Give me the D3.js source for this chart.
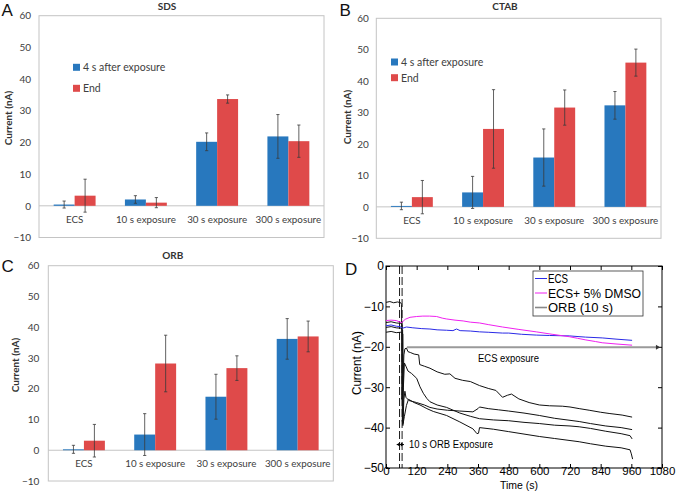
<!DOCTYPE html>
<html><head><meta charset="utf-8">
<script src="https://cdn.jsdelivr.net/npm/d3@7/dist/d3.min.js"></script>
<style>body{margin:0;background:#fff}svg{display:block}</style>
</head><body><svg id="c" width="677" height="492"></svg>
<script>
// ---------- data ----------
const categories = ["ECS", "10 s exposure", "30 s exposure", "300 s exposure"];
const seriesNames = ["4 s after exposure", "End"];
const barTicks = [-10, 0, 10, 20, 30, 40, 50, 60];

const sdsAfter = [0.4, 2.0, 20.2, 21.9];
const sdsAfterErr = [1.1, 1.2, 2.8, 6.9];
const sdsEnd = [3.2, 1.0, 33.7, 20.4];
const sdsEndErr = [5.2, 1.6, 1.3, 5.1];

const ctabAfter = [0.3, 4.6, 15.7, 32.3];
const ctabAfterErr = [1.2, 5.1, 9.1, 4.4];
const ctabEnd = [3.1, 24.8, 31.6, 45.9];
const ctabEndErr = [5.3, 12.5, 5.6, 4.3];

const orbAfter = [0.3, 5.1, 17.4, 36.2];
const orbAfterErr = [1.3, 6.8, 7.3, 6.6];
const orbEnd = [3.1, 28.2, 26.7, 37.0];
const orbEndErr = [5.3, 9.2, 4.0, 5.0];

const timeTicks = [0, 120, 240, 360, 480, 600, 720, 840, 960, 1080];
const currentTicks = [-50, -40, -30, -20, -10, 0];
const traceNames = ["ECS", "ECS+ 5% DMSO", "ORB (10 s)"];

const ecsTrace = [[0,-14.8],[20,-14.6],[40,-14.9],[55,-15.0],[65,-15.4],[80,-15.1],[105,-15.3],[140,-15.5],[172,-15.6],[200,-15.8],[237,-15.9],[262,-16.0],[276,-15.6],[290,-16.0],[330,-16.1],[366,-16.3],[400,-16.4],[456,-16.6],[480,-16.6],[530,-16.9],[588,-17.1],[640,-17.2],[717,-17.3],[780,-17.6],[846,-17.8],[900,-18.1],[963,-18.4]];
const dmsoTrace = [[0,-13.5],[20,-13.4],[40,-13.5],[55,-13.9],[62,-14.0],[75,-13.2],[94,-12.7],[120,-12.5],[144,-12.4],[170,-12.4],[198,-12.5],[220,-12.9],[236,-13.1],[270,-13.4],[302,-13.6],[330,-13.9],[366,-14.1],[400,-14.5],[456,-15.1],[520,-15.7],[588,-16.3],[650,-16.9],[717,-17.5],[750,-17.9],[782,-18.3],[820,-18.7],[846,-19.0],[900,-19.3],[963,-19.6]];
const orbTrace1 = [[0,-9.0],[15,-8.8],[30,-9.1],[45,-8.9],[58,-9.1],[61,-9.5],[62,-33],[66,-30],[70,-22],[74,-20.5],[80,-20.3],[86,-21.2],[95,-21.4],[110,-21.8],[128,-22.0],[132,-24.4],[150,-24.8],[172,-25.3],[200,-26.2],[230,-26.8],[250,-26.7],[270,-27.8],[300,-28.3],[330,-28.6],[366,-29.6],[400,-30.3],[430,-30.8],[456,-32.5],[475,-32.0],[491,-31.7],[520,-32.9],[560,-33.8],[600,-34.4],[640,-34.6],[690,-34.7],[720,-34.9],[756,-35.3],[795,-35.7],[840,-36.2],[873,-36.5],[924,-36.9],[963,-37.4]];
const orbTrace2 = [[0,-14.0],[20,-13.8],[40,-14.1],[58,-14.2],[63,-14.5],[64,-38.5],[68,-30],[72,-24.0],[78,-24.8],[86,-26.0],[100,-26.6],[120,-27.8],[133,-29.9],[146,-31.5],[160,-32.8],[172,-33.6],[200,-34.4],[237,-35.0],[289,-36.4],[330,-37.2],[366,-37.8],[420,-38.1],[480,-38.3],[540,-38.7],[600,-39.0],[660,-39.4],[720,-39.6],[756,-39.8],[800,-40.2],[860,-40.9],[920,-41.5],[955,-42.0],[963,-42.8]];
const orbTrace3 = [[0,-15.2],[20,-15.0],[40,-15.3],[58,-15.4],[65,-15.8],[66,-39.5],[70,-33],[74,-31.0],[78,-32.5],[90,-33.3],[120,-33.8],[150,-34.4],[172,-35.0],[200,-35.4],[240,-35.7],[289,-35.9],[340,-36.1],[360,-35.3],[366,-34.9],[400,-35.3],[440,-35.6],[480,-35.9],[540,-36.4],[600,-37.0],[660,-37.7],[720,-38.2],[756,-38.5],[800,-39.0],[860,-39.6],[920,-40.0],[963,-40.5]];
const orbTrace4 = [[0,-16.4],[20,-16.2],[40,-16.5],[58,-16.4],[66,-16.8],[67,-39.0],[72,-37.2],[80,-34.5],[88,-33.0],[94,-33.2],[110,-33.8],[133,-34.4],[160,-35.3],[185,-36.0],[237,-37.0],[289,-38.6],[340,-40.3],[356,-41.5],[362,-41.4],[366,-40.0],[420,-40.4],[480,-41.0],[540,-41.6],[600,-42.2],[660,-42.7],[720,-43.2],[756,-43.5],[800,-44.0],[860,-44.6],[920,-45.0],[955,-45.5],[960,-46.5],[965,-47.8]];
const exposureMarks = [53, 63];
const ecsExposureLevel = -20.1;
const ecsExposureSpan = [82, 1068];
const orbArrowLevel = -44.2;
const orbArrowSpan = [42, 70];

// ---------- drawing ----------
const svg = d3.select("#c");
svg.append("rect").attr("width", 677).attr("height", 492).attr("fill", "#fff");

const BLUE = "#2878be", RED = "#df4a4a", FRAME = "#c4c4c4";
const BARFONT = "Lato, 'Open Sans', sans-serif";
const MFONT = "'Liberation Sans', Arial, sans-serif";

function barPanel(o) {
  const g = svg.append("g");
  const x = d3.scaleBand().domain(categories).range([o.x0, o.x1]);
  const xs = d3.scaleBand().domain(seriesNames).range([0, x.bandwidth()]).paddingInner(0).paddingOuter(0.7);
  const y = d3.scaleLinear().domain([barTicks[0], barTicks[barTicks.length - 1]]).range([o.yb, o.yt]);

  g.append("rect").attr("x", o.x0).attr("y", o.yt).attr("width", o.x1 - o.x0).attr("height", o.yb - o.yt)
    .attr("fill", "none").attr("stroke", FRAME).attr("stroke-width", 1);

  const ya = g.append("g").attr("transform", `translate(${o.x0},0)`)
    .call(d3.axisLeft(y).tickValues(barTicks).tickSize(0).tickPadding(o.tp));
  ya.select(".domain").remove();
  ya.selectAll("text").attr("font-family", BARFONT).attr("font-size", 10).attr("fill", "#404040");

  g.append("line").attr("x1", o.x0).attr("x2", o.x1).attr("y1", y(0)).attr("y2", y(0))
    .attr("stroke", FRAME).attr("stroke-width", 1);

  const sets = [[o.after, o.afterErr, BLUE], [o.end, o.endErr, RED]];
  sets.forEach(([vals, errs, col], si) => {
    const name = seriesNames[si];
    g.append("g").selectAll("rect").data(categories).join("rect")
      .attr("x", c => x(c) + xs(name)).attr("width", xs.bandwidth())
      .attr("y", (c, i) => y(Math.max(0, vals[i])))
      .attr("height", (c, i) => Math.abs(y(vals[i]) - y(0)))
      .attr("fill", col);
  });
  sets.forEach(([vals, errs, col], si) => {
    const name = seriesNames[si];
    const eg = g.append("g").attr("stroke", "#3a3a3a").attr("stroke-width", 0.8);
    categories.forEach((c, i) => {
      const cx = x(c) + xs(name) + xs.bandwidth() / 2;
      const hi = y(vals[i] + errs[i]), lo = y(vals[i] - errs[i]);
      eg.append("line").attr("x1", cx).attr("x2", cx).attr("y1", hi).attr("y2", lo);
      eg.append("line").attr("x1", cx - 1.6).attr("x2", cx + 1.6).attr("y1", hi).attr("y2", hi);
      eg.append("line").attr("x1", cx - 1.6).attr("x2", cx + 1.6).attr("y1", lo).attr("y2", lo);
    });
  });

  const xa = g.append("g").attr("transform", `translate(0,${y(0)})`)
    .call(d3.axisBottom(x).tickSize(0).tickPadding(10));
  xa.select(".domain").remove();
  xa.selectAll("text").attr("font-family", BARFONT).attr("font-size", 9.8).attr("fill", "#404040");

  g.append("text").attr("x", o.titleX).attr("y", o.titleY).attr("text-anchor", "middle")
    .attr("font-family", BARFONT).attr("font-weight", "bold").attr("font-size", 10).attr("fill", "#333")
    .text(o.title);

  g.append("text").attr("transform", `translate(${o.ylx},${o.yly}) rotate(-90)`)
    .attr("text-anchor", "middle").attr("dominant-baseline", "central")
    .attr("font-family", BARFONT).attr("font-weight", "bold").attr("font-size", 10).attr("fill", "#333")
    .text("Current (nA)");

  if (o.legend) {
    seriesNames.forEach((n, i) => {
      const ly = o.legend.ys[i];
      g.append("rect").attr("x", o.legend.x).attr("y", ly - 3.5).attr("width", 7).attr("height", 7)
        .attr("fill", i === 0 ? BLUE : RED);
      g.append("text").attr("x", o.legend.x + 10).attr("y", ly).attr("dominant-baseline", "central")
        .attr("font-family", BARFONT).attr("font-size", 10.5).attr("fill", "#404040").text(n);
    });
  }

  svg.append("text").attr("x", o.letterX).attr("y", o.letterY)
    .attr("font-family", MFONT).attr("font-size", 17).attr("fill", "#111").text(o.letter);
}

barPanel({x0: 39, x1: 324, yb: 237.5, yt: 15.7, tp: 8, title: "SDS", titleX: 167, titleY: 9.8,
  ylx: 7.5, yly: 118, after: sdsAfter, afterErr: sdsAfterErr, end: sdsEnd, endErr: sdsEndErr,
  legend: {x: 73, ys: [67.3, 88.3]}, letter: "A", letterX: 1.5, letterY: 15.5});
barPanel({x0: 376.3, x1: 661, yb: 238.3, yt: 18.3, tp: 7.5, title: "CTAB", titleX: 505, titleY: 10,
  ylx: 347, yly: 117, after: ctabAfter, afterErr: ctabAfterErr, end: ctabEnd, endErr: ctabEndErr,
  legend: {x: 391, ys: [62, 77.7]}, letter: "B", letterX: 339.5, letterY: 15.5});
barPanel({x0: 48.3, x1: 333.3, yb: 481, yt: 265.7, tp: 9, title: "ORB", titleX: 172.7, titleY: 258.5,
  ylx: 15, yly: 365, after: orbAfter, afterErr: orbAfterErr, end: orbEnd, endErr: orbEndErr,
  legend: null, letter: "C", letterX: 1.5, letterY: 272});

// ---------- panel D ----------
const xD = d3.scaleLinear().domain([timeTicks[0], timeTicks[timeTicks.length - 1]]).range([386, 662]);
const yD = d3.scaleLinear().domain([currentTicks[0], currentTicks[currentTicks.length - 1]]).range([468, 266]);
const gD = svg.append("g");
const fmt = d3.format("d");

function styleTicks(sel, fs) {
  sel.select(".domain").remove();
  sel.selectAll("line").attr("stroke", "#000");
  sel.selectAll("text").attr("font-family", MFONT).attr("font-size", fs).attr("fill", "#000");
}
const axB = gD.append("g").attr("transform", `translate(0,${yD.range()[0]})`)
  .call(d3.axisBottom(xD).tickValues(timeTicks).tickFormat(fmt).tickSizeInner(-4).tickSizeOuter(0).tickPadding(-1));
styleTicks(axB, 11.5);
const axT = gD.append("g").attr("transform", `translate(0,${yD.range()[1]})`)
  .call(d3.axisTop(xD).tickValues(timeTicks).tickSizeInner(-4).tickSizeOuter(0).tickFormat(""));
styleTicks(axT, 11.5);
const axL = gD.append("g").attr("transform", `translate(${xD.range()[0]},0)`)
  .call(d3.axisLeft(yD).tickValues(currentTicks).tickFormat(fmt).tickSizeInner(-4).tickSizeOuter(0).tickPadding(2));
styleTicks(axL, 12);
const axR = gD.append("g").attr("transform", `translate(${xD.range()[1]},0)`)
  .call(d3.axisRight(yD).tickValues(currentTicks).tickSizeInner(-4).tickSizeOuter(0).tickFormat(""));
styleTicks(axR, 12);

gD.append("rect").attr("x", xD.range()[0]).attr("y", yD.range()[1])
  .attr("width", xD.range()[1] - xD.range()[0]).attr("height", yD.range()[0] - yD.range()[1])
  .attr("fill", "none").attr("stroke", "#000").attr("stroke-width", 1);

// exposure dashed markers
exposureMarks.forEach(t => {
  gD.append("line").attr("x1", xD(t)).attr("x2", xD(t)).attr("y1", yD.range()[1]).attr("y2", yD.range()[0])
    .attr("stroke", "#000").attr("stroke-width", 0.9).attr("stroke-dasharray", "8,3");
});

const lineD = d3.line().x(d => xD(d[0])).y(d => yD(d[1]));
[orbTrace1, orbTrace2, orbTrace3, orbTrace4].forEach(tr => {
  gD.append("path").attr("d", lineD(tr)).attr("fill", "none").attr("stroke", "#111").attr("stroke-width", 1);
});
gD.append("path").attr("d", lineD(ecsTrace)).attr("fill", "none").attr("stroke", "#2a2ae6").attr("stroke-width", 1);
gD.append("path").attr("d", lineD(dmsoTrace)).attr("fill", "none").attr("stroke", "#f020f0").attr("stroke-width", 1);

// ECS exposure annotation
gD.append("line").attr("x1", xD(ecsExposureSpan[0])).attr("x2", xD(ecsExposureSpan[1]))
  .attr("y1", yD(ecsExposureLevel)).attr("y2", yD(ecsExposureLevel))
  .attr("stroke", "#9a9a9a").attr("stroke-width", 2);
gD.append("path").attr("d", `M${xD(ecsExposureSpan[1]) - 3},${yD(ecsExposureLevel) - 2.5} L${xD(ecsExposureSpan[1]) + 1},${yD(ecsExposureLevel)} L${xD(ecsExposureSpan[1]) - 3},${yD(ecsExposureLevel) + 2.5}Z`)
  .attr("fill", "#333");
gD.append("text").attr("x", 478).attr("y", yD(ecsExposureLevel) + 11).attr("dominant-baseline", "central")
  .attr("font-family", MFONT).attr("font-size", 10).attr("textLength", 61).attr("lengthAdjust", "spacingAndGlyphs")
  .text("ECS exposure");

// ORB exposure arrow
const ay = yD(orbArrowLevel), ax0 = xD(orbArrowSpan[0]), ax1 = xD(orbArrowSpan[1]);
gD.append("line").attr("x1", ax0).attr("x2", ax1).attr("y1", ay).attr("y2", ay).attr("stroke", "#000").attr("stroke-width", 1);
gD.append("path").attr("d", `M${ax0},${ay} l3,-2 v4Z M${ax1},${ay} l-3,-2 v4Z`).attr("fill", "#000");
gD.append("text").attr("x", 409).attr("y", ay).attr("dominant-baseline", "central")
  .attr("font-family", MFONT).attr("font-size", 10).attr("textLength", 84).attr("lengthAdjust", "spacingAndGlyphs")
  .text("10 s ORB Exposure");

// legend
const lg = gD.append("g");
lg.append("rect").attr("x", 533).attr("y", 271).attr("width", 110).attr("height", 45)
  .attr("fill", "#fff").attr("stroke", "#333").attr("stroke-width", 0.8);
const legCols = ["#2a2ae6", "#f020f0", "#888"];
const legY = [278.5, 293, 307.5];
const legW = [20, 93, 65];
traceNames.forEach((n, i) => {
  lg.append("line").attr("x1", 535).attr("x2", 547).attr("y1", legY[i]).attr("y2", legY[i])
    .attr("stroke", legCols[i]).attr("stroke-width", i === 2 ? 1.6 : 1);
  lg.append("text").attr("x", 548).attr("y", legY[i]).attr("dominant-baseline", "central")
    .attr("font-family", MFONT).attr("font-size", 13.5).attr("textLength", legW[i]).attr("lengthAdjust", "spacingAndGlyphs")
    .text(n);
});

// axis titles
gD.append("text").attr("x", 519).attr("y", 488.5).attr("text-anchor", "middle")
  .attr("font-family", MFONT).attr("font-size", 11.5).attr("textLength", 38).attr("lengthAdjust", "spacingAndGlyphs")
  .text("Time (s)");
gD.append("text").attr("transform", "translate(356,363) rotate(-90)").attr("text-anchor", "middle")
  .attr("dominant-baseline", "central").attr("font-family", MFONT).attr("font-size", 13)
  .attr("textLength", 64).attr("lengthAdjust", "spacingAndGlyphs").text("Current (nA)");
svg.append("text").attr("x", 345).attr("y", 275).attr("font-family", MFONT).attr("font-size", 17)
  .attr("fill", "#111").text("D");
</script></body></html>
